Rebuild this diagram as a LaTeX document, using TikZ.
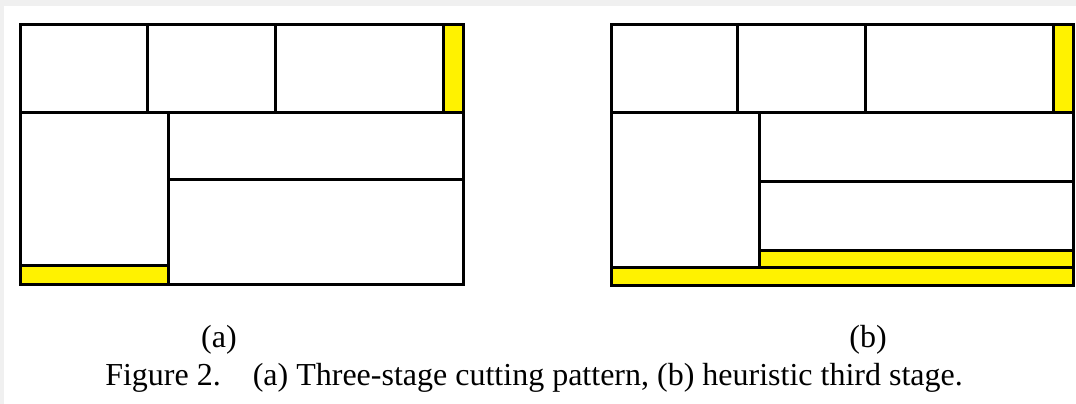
\documentclass[tikz,border=0pt]{standalone}
\usepackage{fontspec}
\setmainfont{Liberation Serif}
\begin{document}
\begin{tikzpicture}[x=1pt,y=-1pt,
  cut/.style={line width=3pt,line cap=rect},
  waste/.style={fill=yellow,draw=black,line width=3pt},
  lbl/.style={font=\fontsize{32}{36}\selectfont,inner sep=0pt}]
% page frame
\fill[white] (0,0) rectangle (1076,404);
\useasboundingbox (0,0) rectangle (1076,404);
\fill[black!6] (0,0) rectangle (1076,6);
\fill[black!6] (0,0) rectangle (4,404);

% ---- (a) three-stage cutting pattern ----
\draw[waste] (443,25) rectangle (463,112);
\draw[waste] (20,265) rectangle (168,284);
\draw[cut] (20,25) rectangle (463,284);
\draw[cut] (20,112) -- (463,112);
\draw[cut] (147,25) -- (147,112);
\draw[cut] (275,25) -- (275,112);
\draw[cut] (168,112) -- (168,284);
\draw[cut] (168,179) -- (463,179);

% ---- (b) heuristic third stage ----
\draw[waste] (1053,25) rectangle (1073,112);
\draw[waste] (759,250) rectangle (1073,267);
\draw[waste] (611,267) rectangle (1073,285);
\draw[cut] (611,25) rectangle (1073,285);
\draw[cut] (611,112) -- (1073,112);
\draw[cut] (737,25) -- (737,112);
\draw[cut] (865,25) -- (865,112);
\draw[cut] (759,112) -- (759,267);
\draw[cut] (759,181) -- (1073,181);

% ---- labels ----
\node[lbl] (la) at (219,340) {(a)};
\node[lbl] (lb) at (868,340) {(b)};
\node[lbl] (cap) at (534,378) {Figure 2.\hspace{1em}(a) Three-stage cutting pattern, (b) heuristic third stage.};
\end{tikzpicture}
\end{document}
